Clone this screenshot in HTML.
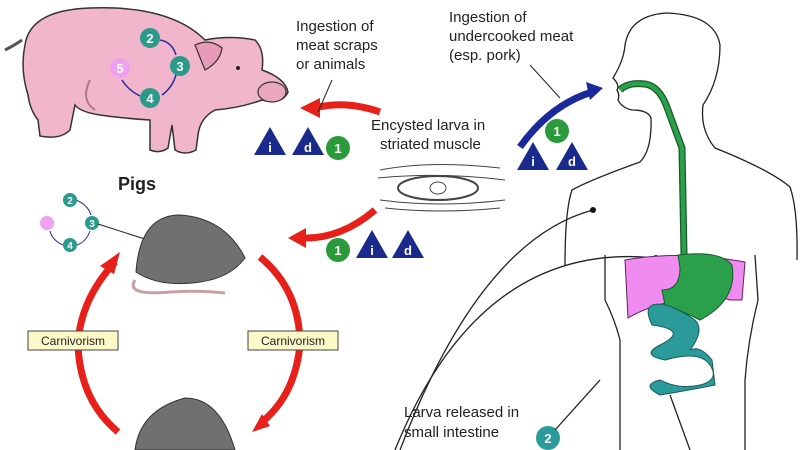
<!DOCTYPE html>
<html><head><meta charset="utf-8"><style>
html,body{margin:0;padding:0;background:#fff;}
svg{display:block;}
text{font-family:"Liberation Sans",sans-serif;}
</style></head><body>
<svg width="800" height="450" viewBox="0 0 800 450" xmlns="http://www.w3.org/2000/svg">
<defs>
<g id="ti"><path d="M0,-16 L16,12 L-16,12 Z" fill="#1a2a8c"/></g>
</defs>
<rect width="800" height="450" fill="#fff"/>
<!-- PIG -->
<path d="M5,50 Q15,45 22,40" stroke="#555" stroke-width="3" fill="none"/>
<path d="M25,45 Q30,10 90,8 Q170,5 205,40 Q230,35 255,40 Q265,50 262,70 Q285,78 288,92 Q282,105 262,100 Q240,108 215,110 Q200,118 198,135 L196,150 Q185,156 175,150 L172,125 L168,148 Q160,154 150,150 L150,120 Q120,118 100,115 Q80,112 75,105 L70,130 Q60,140 40,136 L38,120 Q30,110 28,95 Q20,70 25,45 Z" fill="#f2b6cc" stroke="#333" stroke-width="1.5"/>
<path d="M195,45 Q210,38 222,48 Q220,62 205,70 Z" fill="#e89bb8" stroke="#333" stroke-width="1.2"/>
<ellipse cx="272" cy="92" rx="14" ry="10" fill="#eaa7c0" stroke="#333" stroke-width="1.2"/>
<circle cx="238" cy="68" r="2" fill="#222"/>
<path d="M90,80 Q80,100 95,110" stroke="#b07890" fill="none" stroke-width="2"/>
<g font-weight="bold" font-size="13" text-anchor="middle" fill="#fff">
<path d="M160,40 Q172,42 176,55" stroke="#2a2aa0" fill="none" stroke-width="1.5"/>
<path d="M176,75 Q172,88 162,95" stroke="#2a2aa0" fill="none" stroke-width="1.5"/>
<path d="M140,96 Q128,90 122,80" stroke="#2a2aa0" fill="none" stroke-width="1.5"/>
<circle cx="150" cy="38" r="10" fill="#2a9a8a"/><text x="150" y="43">2</text>
<circle cx="180" cy="66" r="10" fill="#2a9a8a"/><text x="180" y="71">3</text>
<circle cx="150" cy="98" r="10" fill="#2a9a8a"/><text x="150" y="103">4</text>
<circle cx="120" cy="68" r="10" fill="#f0a0f0"/><text x="120" y="73">5</text>
</g>
<text x="118" y="190" font-size="18" font-weight="bold" fill="#222">Pigs</text>
<g font-weight="bold" font-size="10" text-anchor="middle" fill="#fff">
<path d="M76,200 Q88,205 91,215" stroke="#2a2aa0" fill="none"/>
<path d="M90,231 Q86,242 77,245" stroke="#2a2aa0" fill="none"/>
<path d="M63,245 Q52,240 50,231" stroke="#2a2aa0" fill="none"/>
<circle cx="70" cy="200" r="7" fill="#2a9a8a"/><text x="70" y="204">2</text>
<circle cx="92" cy="223" r="7" fill="#2a9a8a"/><text x="92" y="227">3</text>
<circle cx="70" cy="245" r="7" fill="#2a9a8a"/><text x="70" y="249">4</text>
<circle cx="47" cy="223" r="7" fill="#f0a0f0"/>
</g>
<line x1="98" y1="224" x2="185" y2="252" stroke="#222" stroke-width="1"/>
<!-- rats -->
<path d="M136,272 Q140,215 180,215 Q225,218 245,258 Q230,278 200,282 Q160,288 136,272 Z" fill="#707070" stroke="#333"/>
<path d="M135,280 Q125,296 170,292 Q200,290 225,293" stroke="#c9a0a0" fill="none" stroke-width="3"/>
<path d="M135,450 Q140,410 185,398 Q220,398 235,450 Z" fill="#707070" stroke="#333"/>
<!-- red circle arrows -->
<g fill="none" stroke="#e8201a" stroke-width="7">
<path d="M115,262 Q80,300 78,345 Q80,400 118,432"/>
<path d="M260,257 Q300,290 300,345 Q295,395 262,422"/>
<path d="M380,112 Q345,100 315,108"/>
<path d="M375,210 Q340,240 300,238"/>
</g>
<path d="M120,252 L100,266 L114,274 Z" fill="#e8201a"/>
<path d="M252,432 L262,414 L270,426 Z" fill="#e8201a"/>
<path d="M300,108 L320,98 L320,118 Z" fill="#e8201a"/>
<path d="M288,238 L306,228 L306,248 Z" fill="#e8201a"/>
<rect x="28" y="331" width="90" height="19" fill="#fdf8c8" stroke="#444"/>
<text x="73" y="345" font-size="12" text-anchor="middle" fill="#222">Carnivorism</text>
<rect x="248" y="331" width="90" height="19" fill="#fdf8c8" stroke="#444"/>
<text x="293" y="345" font-size="12" text-anchor="middle" fill="#222">Carnivorism</text>
<!-- labels -->
<g font-size="15" fill="#222">
<text x="296" y="31">Ingestion of</text><text x="296" y="50">meat scraps</text><text x="296" y="69">or animals</text>
<text x="449" y="22">Ingestion of</text><text x="449" y="41">undercooked meat</text><text x="449" y="60">(esp. pork)</text>
<text x="371" y="130">Encysted larva in</text><text x="380" y="149">striated muscle</text>
<text x="404" y="417">Larva released in</text><text x="404" y="437">small intestine</text>
</g>
<line x1="332" y1="80" x2="318" y2="112" stroke="#222"/>
<line x1="530" y1="65" x2="560" y2="98" stroke="#222"/>
<g font-weight="bold" font-size="13" text-anchor="middle" fill="#fff">
<use href="#ti" x="270" y="143"/><text x="270" y="152">i</text>
<use href="#ti" x="308" y="143"/><text x="308" y="152">d</text>
<circle cx="338" cy="148" r="12" fill="#2a9a3a"/><text x="338" y="153">1</text>
<circle cx="338" cy="250" r="12" fill="#2a9a3a"/><text x="338" y="255">1</text>
<use href="#ti" x="372" y="246"/><text x="372" y="255">i</text>
<use href="#ti" x="408" y="246"/><text x="408" y="255">d</text>
<circle cx="557" cy="131" r="12" fill="#2a9a3a"/><text x="557" y="136">1</text>
<use href="#ti" x="533" y="158"/><text x="533" y="166">i</text>
<use href="#ti" x="572" y="158"/><text x="572" y="166">d</text>
<circle cx="548" cy="438" r="12" fill="#2a9a9a"/><text x="548" y="443">2</text>
</g>
<!-- blue arrow -->
<path d="M520,147 Q550,105 592,92" stroke="#1a2a9c" stroke-width="7" fill="none"/>
<path d="M603,88 L586,82 L590,100 Z" fill="#1a2a9c"/>
<!-- muscle -->
<g stroke="#444" fill="none" stroke-width="1">
<path d="M380,170 Q430,160 500,168"/><path d="M378,178 Q440,172 505,180"/>
<path d="M380,200 Q440,208 505,200"/><path d="M385,208 Q440,214 500,208"/>
<ellipse cx="438" cy="188" rx="40" ry="12" stroke-width="2"/>
<ellipse cx="438" cy="188" rx="8" ry="6"/>
</g>
<!-- human -->
<g stroke="#222" fill="none" stroke-width="1.3">
<path d="M667,13 Q630,15 625,45 Q624,60 613,78 Q620,85 617,90 Q620,95 618,100 Q622,108 632,110 Q648,110 651,118 Q652,150 640,162 Q590,180 572,190 Q565,210 565,265"/>
<path d="M667,13 Q715,15 720,45 Q720,80 703,105 Q700,130 715,148 Q770,170 790,187 Q798,210 797,260"/>
<path d="M605,255 L605,300 Q615,320 620,340 L620,450"/>
<path d="M755,255 L758,300 Q748,340 745,380 L745,450"/>
<path d="M593,210 Q480,240 400,450"/>
<path d="M656,258 Q480,240 395,450"/>
<path d="M600,380 L555,430"/>
<path d="M670,395 L690,450"/>
</g>
<circle cx="593" cy="210" r="3" fill="#111"/><circle cx="656" cy="258" r="3" fill="#111"/>
<path d="M625,260 Q680,250 745,262 L742,300 L730,300 Q700,290 680,300 Q650,305 628,318 Z" fill="#f08cf0" stroke="#602060"/>
<path d="M620,90 Q628,82 645,84 Q660,86 668,110 L682,148 L684,255" stroke="#175a28" stroke-width="7" fill="none"/>
<path d="M620,90 Q628,82 645,84 Q660,86 668,110 L682,148 L684,255" stroke="#2aa04a" stroke-width="4.5" fill="none"/>
<path d="M678,255 Q720,250 732,265 Q738,300 700,320 Q680,310 665,305 L662,290 Q680,290 680,268 Z" fill="#2aa04a" stroke="#175a28"/>
<path d="M665,305 Q640,300 652,325 Q690,330 660,345 Q640,355 665,360 Q700,350 710,365 Q720,380 700,385 Q680,390 660,380 Q640,385 660,395 Q690,390 715,385 L712,360 Q700,345 690,350 Q705,330 695,320 Q678,308 665,305 Z" fill="#2a9a9a" stroke="#1a5a5a"/>
</svg>
</body></html>
